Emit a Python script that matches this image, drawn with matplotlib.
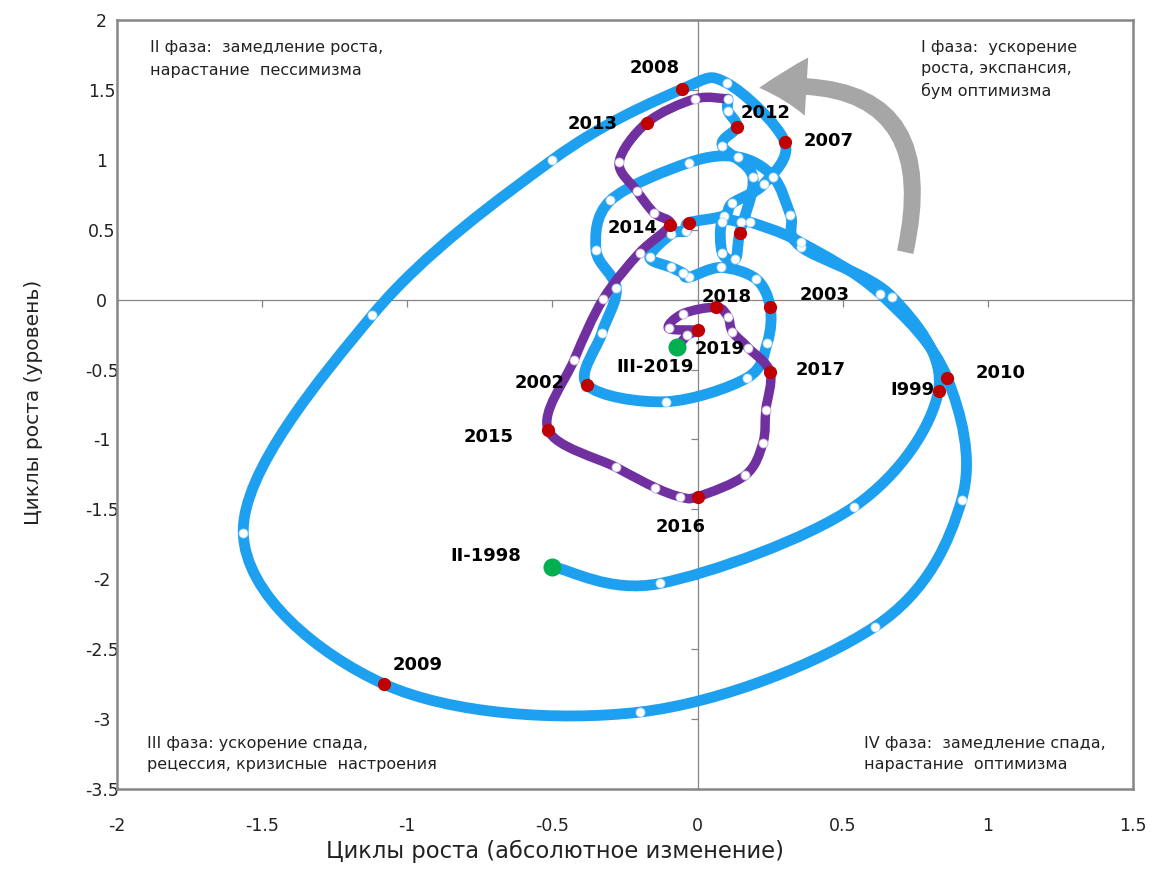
import matplotlib
matplotlib.use("Agg")
import matplotlib.pyplot as plt
from matplotlib.path import Path
from matplotlib.patches import PathPatch, FancyArrowPatch
import numpy as np

plt.rcParams['font.family'] = ['DejaVu Sans']
plt.rcParams['axes.unicode_minus'] = False

#quarterly points II-1998 .. III-2019
#x = absolute change of growth cycle, y = level of growth cycle
cyc_x = [-0.50, -0.13, 0.54, 0.83, 0.67, 0.355, 0.32, 0.26, 0.14, -0.03,
         -0.30, -0.35, -0.28, -0.33, -0.38, -0.11, 0.17, 0.24, 0.25, 0.20,
         0.08, -0.03, -0.05, -0.09, -0.165, -0.09, -0.04, -0.03, 0.09, 0.12,
         0.23, 0.30, 0.10, -0.055, -0.50, -1.12, -1.565, -1.08, -0.20, 0.61,
         0.91, 0.86, 0.63, 0.355, 0.18, 0.15, 0.085, 0.085, 0.13, 0.145,
         0.19, 0.085, 0.135, 0.105, 0.105, -0.01, -0.175, -0.27, -0.21, -0.15,
         -0.095, -0.20, -0.325, -0.425, -0.515, -0.28, -0.145, -0.06, 0.0, 0.165,
         0.225, 0.235, 0.25, 0.175, 0.12, 0.105, 0.065, -0.05, -0.10, 0.0,
         -0.035, -0.07]
cyc_y = [-1.91, -2.03, -1.48, -0.65, 0.02, 0.38, 0.605, 0.88, 1.02, 0.98,
         0.71, 0.355, 0.08, -0.24, -0.61, -0.73, -0.56, -0.31, -0.05, 0.15,
         0.23, 0.16, 0.19, 0.23, 0.305, 0.47, 0.49, 0.55, 0.60, 0.69,
         0.83, 1.13, 1.55, 1.505, 1.00, -0.11, -1.67, -2.75, -2.95, -2.34,
         -1.43, -0.56, 0.04, 0.41, 0.555, 0.555, 0.555, 0.335, 0.29, 0.475,
         0.88, 1.10, 1.235, 1.35, 1.435, 1.435, 1.265, 0.985, 0.78, 0.62,
         0.535, 0.335, 0.005, -0.43, -0.93, -1.20, -1.345, -1.41, -1.41, -1.255,
         -1.025, -0.79, -0.52, -0.345, -0.23, -0.125, -0.055, -0.10, -0.205, -0.22,
         -0.255, -0.34]

purple_from = 54   #last part of the series (2013-2019) is purple
red_idx = [3, 14, 18, 27, 31, 33, 37, 41, 49, 52, 56, 60, 64, 68, 72, 76, 79]
green_idx = [0, 81]

#year labels and where they sit
year_labels = ["2008", "2013", "2012", "2007", "2014", "2018", "2003", "2019",
               "III-2019", "2017", "2002", "I999", "2010", "2015", "2016",
               "II-1998", "2009"]
label_x = [-0.148, -0.362, 0.234, 0.451, -0.224, 0.10, 0.437, 0.076,
           -0.148, 0.424, -0.544, 0.741, 1.044, -0.72, -0.059, -0.73, -0.965]
label_y = [1.657, 1.256, 1.335, 1.134, 0.512, 0.019, 0.033, -0.353,
           -0.482, -0.50, -0.596, -0.647, -0.525, -0.983, -1.627, -1.835, -2.61]

x_ticks = [-2, -1.5, -1, -0.5, 0, 0.5, 1, 1.5]
y_ticks = [-3.5, -3, -2.5, -2, -1.5, -1, -0.5, 0, 0.5, 1, 1.5, 2]

blue = '#1ea0f0'
purple = '#7030a0'
red = '#c00000'
green = '#00b050'
gray = '#868686'


def smooth_path(xs, ys):
    #excel-like smoothed line: catmull-rom segments as cubic beziers
    pts = np.column_stack([xs, ys])
    n = len(pts)
    verts = [pts[0]]
    codes = [Path.MOVETO]
    for i in range(n - 1):
        p0 = pts[i - 1] if i > 0 else pts[i]
        p1 = pts[i]
        p2 = pts[i + 1]
        p3 = pts[i + 2] if i + 2 < n else pts[i + 1]
        verts += [p1 + (p2 - p0) / 6, p2 - (p3 - p1) / 6, p2]
        codes += [Path.CURVE4] * 3
    return Path(verts, codes)


fig = plt.figure(figsize=(11.52, 8.71), dpi=100)
pos = [117 / 1152, 1 - 789 / 871, 1016 / 1152, 769 / 871]
ax = fig.add_axes(pos)
ax.set_xlim(-2, 1.5)
ax.set_ylim(-3.5, 2)
ax.set_xticks(x_ticks)
ax.set_yticks(y_ticks)
ax.set_xticklabels([f"{t:g}" for t in x_ticks])
ax.set_yticklabels([f"{t:g}" for t in y_ticks], ha='center')
ax.tick_params(axis='x', length=0, pad=20, labelsize=12.5, colors='#222222')
ax.tick_params(axis='y', length=0, pad=11, labelsize=12.5, colors='#222222')
for s in ax.spines.values():
    s.set_color(gray)
    s.set_linewidth(1.8)

#axis lines through the origin with small outside ticks
ax2 = fig.add_axes(pos, sharex=ax, sharey=ax)
ax2.patch.set_visible(False)
ax2.spines['top'].set_visible(False)
ax2.spines['right'].set_visible(False)
for side in ['left', 'bottom']:
    ax2.spines[side].set_position(('data', 0))
    ax2.spines[side].set_color(gray)
    ax2.spines[side].set_linewidth(0.9)
ax2.tick_params(direction='out', length=5, width=0.9, color=gray,
                labelbottom=False, labelleft=False)
ax2.set_zorder(0)
ax.set_zorder(1)
ax.patch.set_visible(False)

#the cycle line
xb, yb = cyc_x[:purple_from + 1], cyc_y[:purple_from + 1]
xp, yp = cyc_x[purple_from:], cyc_y[purple_from:]
ax.add_patch(PathPatch(smooth_path(xb, yb), fill=False, lw=7.8, edgecolor=blue,
                       capstyle='round', joinstyle='round', zorder=3))
ax.add_patch(PathPatch(smooth_path(xp, yp), fill=False, lw=6.8, edgecolor=purple,
                       capstyle='round', joinstyle='round', zorder=4))

white_idx = [i for i in range(len(cyc_x)) if i not in red_idx and i not in green_idx]
wb = [i for i in white_idx if i <= purple_from]
wp = [i for i in white_idx if i > purple_from]
ax.plot([cyc_x[i] for i in wb], [cyc_y[i] for i in wb], 'o', ms=6.5, mfc='white',
        mec='#a9d8f8', mew=0.6, zorder=5)
ax.plot([cyc_x[i] for i in wp], [cyc_y[i] for i in wp], 'o', ms=6.5, mfc='white',
        mec='#c9a9df', mew=0.6, zorder=5)
ax.plot([cyc_x[i] for i in red_idx], [cyc_y[i] for i in red_idx], 'o', ms=8.5,
        mfc=red, mec=red, zorder=6)
ax.plot([cyc_x[i] for i in green_idx], [cyc_y[i] for i in green_idx], 'o', ms=12,
        mfc=green, mec=green, zorder=6)

for t, lx, ly in zip(year_labels, label_x, label_y):
    ax.text(lx, ly, t, ha='center', va='center', fontsize=13, fontweight='bold',
            color='black', zorder=7)

#phase captions
ax.text(-1.888, 1.855, "II фаза:  замедление роста,\nнарастание  пессимизма",
        ha='left', va='top', fontsize=11.5, color='#222222', linespacing=1.65)
ax.text(0.768, 1.855, "I фаза:  ускорение\nроста, экспансия,\nбум оптимизма",
        ha='left', va='top', fontsize=11.5, color='#222222', linespacing=1.5)
ax.text(-1.895, -3.12, "III фаза: ускорение спада,\nрецессия, кризисные  настроения",
        ha='left', va='top', fontsize=11.5, color='#222222', linespacing=1.5)
ax.text(0.575, -3.12, "IV фаза:  замедление спада,\nнарастание  оптимизма",
        ha='left', va='top', fontsize=11.5, color='#222222', linespacing=1.5)

#gray arrow showing the direction of the cycle
arrow = FancyArrowPatch(posA=(0.713, 0.32), posB=(0.203, 1.513),
                        connectionstyle='arc3,rad=0.7',
                        arrowstyle='simple,head_length=3.4,head_width=4.2,tail_width=1.2',
                        mutation_scale=10, color='#a6a6a6', lw=0, zorder=2)
ax.add_patch(arrow)

ax.set_xlabel("Циклы роста (абсолютное изменение)", fontsize=16.3, color='#222222')
ax.xaxis.set_label_coords(0.431, -0.066)
ax.set_ylabel("Циклы роста (уровень)", fontsize=14.5, color='#222222')
ax.yaxis.set_label_coords(-0.073, 0.503)

fig.savefig("out.png", dpi=100, facecolor='white')
